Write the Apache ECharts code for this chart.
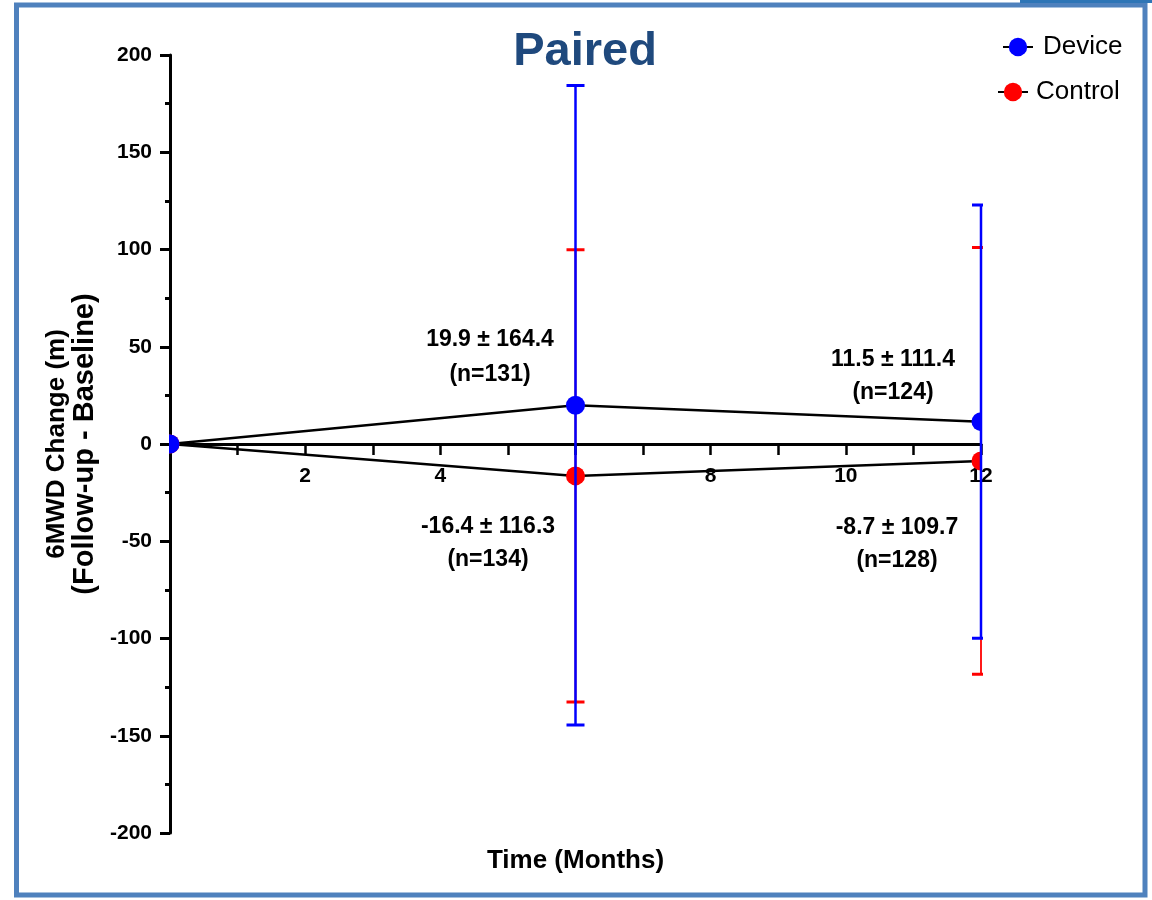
<!DOCTYPE html>
<html>
<head>
<meta charset="utf-8">
<script src="https://cdn.jsdelivr.net/npm/echarts@6/dist/echarts.min.js"></script>
<style>
html,body{margin:0;padding:0;background:#fff;}
#chart{width:1152px;height:900px;}
</style>
</head>
<body>
<div id="chart"></div>
<script>
// ---- data ----
const months = [0, 6, 12];
const deviceMean = [0, 19.9, 11.5];
const deviceSD = [0, 164.4, 111.4];
const deviceN = [null, 131, 124];
const controlMean = [0, -16.4, -8.7];
const controlSD = [0, 116.3, 109.7];
const controlN = [null, 134, 128];
const xTicks = [2, 4, 6, 8, 10, 12];
const yTicks = [-200, -150, -100, -50, 0, 50, 100, 150, 200];

const FONT = 'Liberation Sans, Arial, sans-serif';
const BLUE = '#0000ff';
const RED = '#ff0000';

const GRID = { left: 170, right: 171, top: 55, bottom: 67 };
const gridH = 900 - GRID.top - GRID.bottom;

function seriesData(mean, sd) {
  return months.map((m, i) => [m, mean[i], mean[i] - sd[i], mean[i] + sd[i]]);
}

function errSeries(name, mean, sd, color, barWidth, z) {
  return {
    type: 'custom', name: name, clip: true, z: z,
    lineStyle: { width: 3 },
    data: seriesData(mean, sd),
    encode: { x: 0, y: 1 },
    renderItem: function (params, api) {
      const x = api.value(0), lo = api.value(2), hi = api.value(3);
      if (hi === lo) return { type: 'group', children: [] };
      const pl = api.coord([x, lo]);
      const ph = api.coord([x, hi]);
      return {
        type: 'group', children: [
          { type: 'line', shape: { x1: pl[0], y1: pl[1], x2: pl[0], y2: ph[1] }, style: { stroke: color, lineWidth: barWidth } },
          { type: 'line', shape: { x1: pl[0] - 9, y1: pl[1], x2: pl[0] + 9, y2: pl[1] }, style: { stroke: color, lineWidth: 3 } },
          { type: 'line', shape: { x1: pl[0] - 9, y1: ph[1], x2: pl[0] + 9, y2: ph[1] }, style: { stroke: color, lineWidth: 3 } }
        ]
      };
    }
  };
}

function markerSeries(name, mean, sd, color, z) {
  return {
    type: 'custom', name: name, clip: true, z: z,
    lineStyle: { width: 1 },
    data: seriesData(mean, sd),
    encode: { x: 0, y: 1 },
    renderItem: function (params, api) {
      const p = api.coord([api.value(0), api.value(1)]);
      return { type: 'circle', shape: { cx: p[0], cy: p[1], r: 9.5 }, style: { fill: color } };
    }
  };
}

function lineSeries(name, mean, color) {
  return {
    type: 'line', name: name, z: 2,
    data: months.map((m, i) => [m, mean[i]]),
    showSymbol: false,
    symbol: 'circle',
    itemStyle: { color: color },
    lineStyle: { color: '#000', width: 2.5 },
    clip: true
  };
}

function annText(mean, sd, n) {
  return [mean.toFixed(1) + ' \u00b1 ' + sd.toFixed(1), '(n=' + n + ')'];
}

const annFont = 'bold 23px ' + FONT;
const annLayout = [
  { t: annText(deviceMean[1], deviceSD[1], deviceN[1]), x: 490, y: [340, 375] },
  { t: annText(deviceMean[2], deviceSD[2], deviceN[2]), x: 893, y: [360, 393] },
  { t: annText(controlMean[1], controlSD[1], controlN[1]), x: 488, y: [527, 560] },
  { t: annText(controlMean[2], controlSD[2], controlN[2]), x: 897, y: [528, 561] }
];
const annGraphics = [];
annLayout.forEach(a => {
  a.t.forEach((txt, k) => {
    annGraphics.push({
      type: 'text', x: a.x, y: a.y[k], z: 50,
      style: { text: txt, font: annFont, fill: '#000', textAlign: 'center', textVerticalAlign: 'middle' }
    });
  });
});

const chart = echarts.init(document.getElementById('chart'), null, { renderer: 'canvas' });
chart.setOption({
  animation: false,
  backgroundColor: '#fff',
  title: {
    text: 'Paired',
    left: 580, top: 24, textAlign: 'center',
    textStyle: { fontFamily: FONT, fontSize: 47, fontWeight: 'bold', color: '#1f497d' }
  },
  legend: [
    {
      data: ['Device'], left: 997, top: 29, itemWidth: 30, itemHeight: 23,
      textStyle: { fontFamily: FONT, fontSize: 26, color: '#000', padding: [0, 0, 0, 5] }
    },
    {
      data: ['Control'], left: 992, top: 74, itemWidth: 30, itemHeight: 23,
      textStyle: { fontFamily: FONT, fontSize: 26, color: '#000', padding: [0, 0, 0, 3] }
    }
  ],
  grid: { left: GRID.left, right: GRID.right, top: GRID.top, bottom: GRID.bottom, containLabel: false },
  xAxis: [
    {
      type: 'value', min: 0, max: 12, interval: 1, z: 10,
      position: 'bottom', offset: -gridH / 2,
      axisLine: { onZero: false, lineStyle: { color: '#000', width: 3 } },
      axisTick: { show: true, length: 11, lineStyle: { color: '#000', width: 2.5 } },
      axisLabel: {
        margin: 22, fontFamily: FONT, fontSize: 21, fontWeight: 'bold', color: '#000',
        formatter: v => (xTicks.indexOf(v) >= 0 ? String(v) : '')
      },
      splitLine: { show: false }
    },
    {
      type: 'value', min: 0, max: 12, position: 'bottom',
      axisLine: { show: false, onZero: false }, axisTick: { show: false }, axisLabel: { show: false },
      splitLine: { show: false },
      name: 'Time (Months)', nameLocation: 'middle', nameGap: 15,
      nameTextStyle: { fontFamily: FONT, fontSize: 26, fontWeight: 'bold', color: '#000' }
    }
  ],
  yAxis: {
    type: 'value', min: -200, max: 200, interval: 50, z: 10,
    axisLine: { show: true, onZero: false, lineStyle: { color: '#000', width: 3 } },
    axisTick: { show: true, length: 10, lineStyle: { color: '#000', width: 3 } },
    minorTick: { show: true, splitNumber: 2, length: 5, lineStyle: { color: '#000', width: 3 } },
    axisLabel: {
      margin: 18, fontFamily: FONT, fontSize: 21, fontWeight: 'bold', color: '#000',
      formatter: v => (yTicks.indexOf(v) >= 0 ? String(v) : '')
    },
    splitLine: { show: false },
    minorSplitLine: { show: false },
    name: '{a|6MWD Change (m)}\n{b|(Follow-up - Baseline)}',
    nameLocation: 'middle', nameRotate: 90, nameGap: 71,
    nameTextStyle: {
      fontFamily: FONT, fontWeight: 'bold', color: '#000',
      rich: {
        a: { fontFamily: FONT, fontSize: 26, fontWeight: 'bold', color: '#000', lineHeight: 27 },
        b: { fontFamily: FONT, fontSize: 29, fontWeight: 'bold', color: '#000', lineHeight: 29 }
      }
    }
  },
  series: [
    lineSeries('Device', deviceMean, BLUE),
    lineSeries('Control', controlMean, RED),
    errSeries('Control', controlMean, controlSD, RED, 1.8, 3),
    markerSeries('Control', controlMean, controlSD, RED, 12),
    errSeries('Device', deviceMean, deviceSD, BLUE, 2.5, 13),
    markerSeries('Device', deviceMean, deviceSD, BLUE, 14)
  ],
  graphic: [
    { type: 'rect', z: 100, shape: { x: 16.5, y: 5, width: 1128.5, height: 890 }, style: { fill: 'none', stroke: '#4f81bd', lineWidth: 5 } },
    { type: 'rect', z: 100, shape: { x: 1020, y: 0, width: 132, height: 3 }, style: { fill: '#2e75b6' } }
  ].concat(annGraphics)
});
</script>
</body>
</html>
